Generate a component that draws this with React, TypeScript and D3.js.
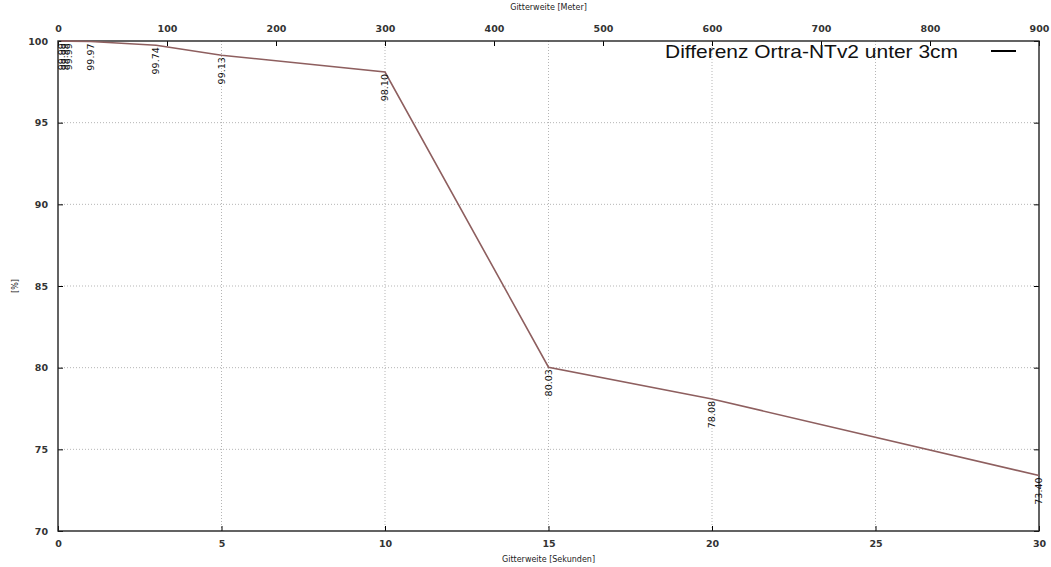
import React, { useEffect, useRef } from "react";
import * as d3 from "d3";

// Gitterweite in Sekunden, Anteil [%]
const SECONDS = [0.1, 0.2, 0.33, 1, 3, 5, 10, 15, 20, 30];
const PERCENT = [99.99, 99.99, 99.99, 99.97, 99.74, 99.13, 98.1, 80.03, 78.08, 73.4];
const LABELS = ["99.99", "99.99", "99.99", "99.97", "99.74", "99.13", "98.10", "80.03", "78.08", "73.40"];

const X_TICKS = [0, 5, 10, 15, 20, 25, 30];
const X2_TICKS = [0, 100, 200, 300, 400, 500, 600, 700, 800, 900];
const Y_TICKS = [70, 75, 80, 85, 90, 95, 100];

const LEGEND = "Differenz Ortra-NTv2 unter 3cm";

export default function App() {
  const svgRef = useRef<SVGSVGElement>(null);

  useEffect(() => {
    if (!svgRef.current) return;
    const width = 1051;
    const height = 567;
    const margin = { top: 41, right: 12, bottom: 36, left: 58 };
    const w = width - margin.left - margin.right;
    const h = height - margin.top - margin.bottom;

    const svg = d3.select(svgRef.current);
    svg.selectAll("*").remove();
    svg.append("rect").attr("width", width).attr("height", height).attr("fill", "#fff");

    const g = svg.append("g").attr("transform", `translate(${margin.left},${margin.top})`);

    const x = d3.scaleLinear().domain([0, 30]).range([0, w]);
    const x2 = d3.scaleLinear().domain([0, 900]).range([0, w]);
    const y = d3.scaleLinear().domain([70, 100]).range([h, 0]);

    const font = "DejaVu Sans, sans-serif";

    // grid
    g.selectAll(".vgrid")
      .data(X_TICKS.slice(1, -1))
      .enter()
      .append("line")
      .attr("x1", d => x(d))
      .attr("x2", d => x(d))
      .attr("y1", 0)
      .attr("y2", h)
      .attr("stroke", "#b5b5b5")
      .attr("stroke-width", 1)
      .attr("stroke-dasharray", "1,2");

    g.selectAll(".hgrid")
      .data(Y_TICKS.slice(1, -1))
      .enter()
      .append("line")
      .attr("x1", 0)
      .attr("x2", w)
      .attr("y1", d => y(d))
      .attr("y2", d => y(d))
      .attr("stroke", "#b5b5b5")
      .attr("stroke-width", 1)
      .attr("stroke-dasharray", "1,2");

    // axes
    const styleAxis = (sel: any) => {
      sel.select(".domain").remove();
      sel.selectAll(".tick line").attr("stroke", "#000");
      sel.selectAll("text")
        .attr("font-family", font)
        .attr("font-size", "9.5px")
        .attr("font-weight", "bold")
        .attr("fill", "#333");
    };

    g.append("g")
      .attr("transform", `translate(0,${h})`)
      .call(d3.axisBottom(x).tickValues(X_TICKS).tickSizeInner(-5).tickSizeOuter(0).tickPadding(9))
      .call(styleAxis);

    g.append("g")
      .call(d3.axisTop(x2).tickValues(X2_TICKS).tickSizeInner(-5).tickSizeOuter(0).tickPadding(9))
      .call(styleAxis);

    g.append("g")
      .call(d3.axisLeft(y).tickValues(Y_TICKS).tickSizeInner(-5).tickSizeOuter(0).tickPadding(10))
      .call(styleAxis);

    g.append("g")
      .attr("transform", `translate(${w},0)`)
      .call(d3.axisRight(y).tickValues(Y_TICKS).tickSizeInner(-5).tickSizeOuter(0).tickFormat(() => ""))
      .call(styleAxis);

    // border
    g.append("rect")
      .attr("width", w)
      .attr("height", h)
      .attr("fill", "none")
      .attr("stroke", "#222")
      .attr("stroke-width", 1.4);

    // line
    const line = d3.line<number>()
      .x((d, i) => x(SECONDS[i]))
      .y(d => y(d));

    g.append("path")
      .datum(PERCENT)
      .attr("d", line)
      .attr("fill", "none")
      .attr("stroke", "#8e5f5f")
      .attr("stroke-width", 1.6);

    // point labels
    g.selectAll(".plabel")
      .data(PERCENT)
      .enter()
      .append("text")
      .attr("transform", (d, i) => `translate(${x(SECONDS[i])},${y(d) + 2}) rotate(-90)`)
      .attr("text-anchor", "end")
      .attr("dy", "0.35em")
      .attr("font-family", font)
      .attr("font-size", "9.5px")
      .attr("fill", "#111")
      .text((d, i) => LABELS[i]);

    // axis titles
    svg.append("text")
      .attr("x", margin.left + w / 2)
      .attr("y", height - 5)
      .attr("text-anchor", "middle")
      .attr("font-family", font)
      .attr("font-size", "8px")
      .attr("fill", "#222")
      .text("Gitterweite [Sekunden]");

    svg.append("text")
      .attr("x", margin.left + w / 2)
      .attr("y", 10)
      .attr("text-anchor", "middle")
      .attr("font-family", font)
      .attr("font-size", "8px")
      .attr("fill", "#222")
      .text("Gitterweite [Meter]");

    svg.append("text")
      .attr("transform", `translate(18,${margin.top + h / 2}) rotate(-90)`)
      .attr("text-anchor", "middle")
      .attr("font-family", font)
      .attr("font-size", "8px")
      .attr("fill", "#222")
      .text("[%]");

    // legend
    svg.append("text")
      .attr("x", 665)
      .attr("y", 58)
      .attr("textLength", 293)
      .attr("lengthAdjust", "spacingAndGlyphs")
      .attr("font-family", "Liberation Sans, Arial, sans-serif")
      .attr("font-size", "19px")
      .attr("fill", "#111")
      .text(LEGEND);

    svg.append("line")
      .attr("x1", 991)
      .attr("x2", 1016)
      .attr("y1", 51)
      .attr("y2", 51)
      .attr("stroke", "#000")
      .attr("stroke-width", 2);
  }, []);

  return (
    <svg
      ref={svgRef}
      width={1051}
      height={567}
      style={{ position: "absolute", left: 0, top: 0, display: "block" }}
    />
  );
}
